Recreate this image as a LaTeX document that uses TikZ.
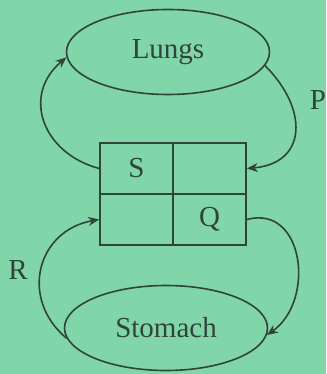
\documentclass[tikz,border=0pt]{standalone}
\usepackage{fontspec}
\setmainfont{Liberation Serif}
\usetikzlibrary{shapes.geometric,arrows.meta}

\definecolor{bgmint}{RGB}{128,214,168}
\definecolor{inkgrey}{RGB}{48,68,58}

\tikzset{
  organ/.style={ellipse, draw=inkgrey, line width=1.6pt, minimum width=203pt, minimum height=85pt, inner sep=0pt, text=inkgrey},
  cell/.style={rectangle, draw=inkgrey, line width=1.6pt, minimum width=73pt, minimum height=51pt, inner sep=0pt, text=inkgrey},
  flow/.style={draw=inkgrey, line width=1.6pt, -{Stealth[length=11pt,width=9pt]}},
  tag/.style={text=inkgrey}
}

\begin{document}
\begin{tikzpicture}[x=1pt, y=-1pt, font=\fontsize{29}{31}\selectfont]
\fill[bgmint] (0,0) rectangle (326,374);
\useasboundingbox (0,0) rectangle (326,374);

% organs
\node[organ] (lungs) at (168,52) {Lungs};
\node[organ] (stomach) at (166,328) {Stomach};

% the four chambers
\node[cell] (sCell) at (136.5,168.5) {S};
\node[cell] (trCell) at (209.5,168.5) {};
\node[cell] (blCell) at (136.5,219.5) {};
\node[cell] (qCell) at (209.5,219.5) {Q};

% circulation
\draw[flow] (sCell.west) to[out=165, in=220, looseness=1.3] (lungs.183);
\draw[flow] (lungs.-8) to[out=-45, in=5, looseness=1.5] (trCell.east);
\draw[flow] (qCell.east) to[out=15, in=35, looseness=1.3] (stomach.-4);
\draw[flow] (stomach.186) to[out=140, in=190, looseness=1.3] (blCell.west);

% labels
\node[tag] (pLabel) at (318,100) {P};
\node[tag] (rLabel) at (18,270) {R};
\end{tikzpicture}
\end{document}
